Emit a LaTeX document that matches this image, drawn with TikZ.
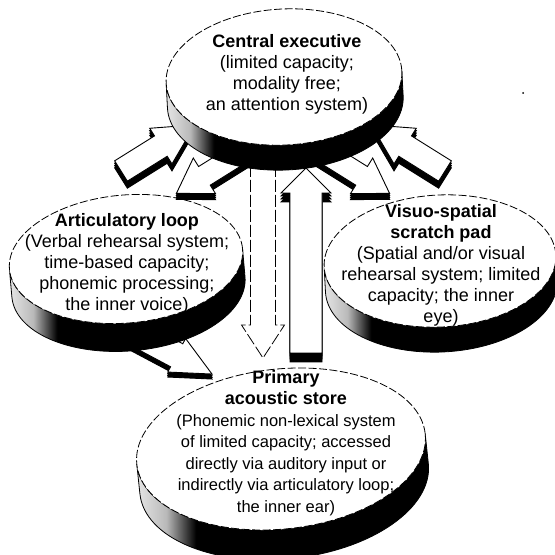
\documentclass[tikz,border=0pt]{standalone}
\usepackage{fontspec}
\setmainfont{Liberation Sans}
\pgfdeclarehorizontalshading{discsideshade}{100bp}{color(0bp)=(gray!20); color(25bp)=(gray!20); color(30bp)=(gray!55); color(35bp)=(black); color(100bp)=(black)}
\tikzset{
  face/.style={fill=white, draw=black, line width=0.8pt, dash pattern=on 8pt off 2.5pt},
  disclook/.style={shade, shading=discsideshade, draw=black, line width=0.8pt},
  arrowtop/.style={fill=white, draw=black, line width=0.9pt, line join=miter},
  arrowdash/.style={fill=white, draw=black, line width=0.8pt, dash pattern=on 12pt off 3pt},
  arrowshadow/.style={fill=black, draw=black, line width=0.9pt, line join=miter},
  bodytext/.style={align=center, inner sep=0pt, font=\fontsize{18}{21}\selectfont},
  smalltext/.style={align=center, inner sep=0pt, font=\fontsize{16.5}{21.5}\selectfont},
}
\newcommand\disctitle[1]{{\fontsize{18}{21}\selectfont\bfseries #1}}
% cx, cy, rx, ry, depth, rotation
\newcommand\drawdisc[6]{%
  \begin{scope}[shift={(#1pt,#2pt)}, rotate=#6]
    \path[disclook] (-#3pt,0pt) -- (-#3pt,-#5pt)
      arc[start angle=180, end angle=360, x radius=#3pt, y radius=#4pt]
      -- (#3pt,0pt)
      arc[start angle=0, end angle=-180, x radius=#3pt, y radius=#4pt] -- cycle;
    \path[face] (0pt,0pt) ellipse[x radius=#3pt, y radius=#4pt];
  \end{scope}}
% [style] x, y (tail centre), angle, length, shaft half width, head half width, head length, depth
\newcommand\blockarrow[9][arrowtop]{%
  \ifdim #9pt>0pt
    \foreach \off in {0.33,0.67,1}{
      \path[arrowshadow, shift={(#2pt,{#3pt-\off*#9pt})}, rotate=#4]
        (0pt,-#6pt) -- ({#5pt-#8pt},-#6pt) -- ({#5pt-#8pt},-#7pt) -- (#5pt,0pt)
        -- ({#5pt-#8pt},#7pt) -- ({#5pt-#8pt},#6pt) -- (0pt,#6pt) -- cycle;
    }
  \fi
  \path[#1, shift={(#2pt,#3pt)}, rotate=#4]
    (0pt,-#6pt) -- ({#5pt-#8pt},-#6pt) -- ({#5pt-#8pt},-#7pt) -- (#5pt,0pt)
    -- ({#5pt-#8pt},#7pt) -- ({#5pt-#8pt},#6pt) -- (0pt,#6pt) -- cycle;
}
\begin{document}
\begin{tikzpicture}[x=1pt,y=1pt]
\useasboundingbox (0,0) rectangle (555,555);
\fill[white] (0,0) rectangle (555,555);

% Primary acoustic store
\drawdisc{281}{106}{145}{80}{30}{6}
% arrow articulatory loop -> primary acoustic store
\blockarrow{123.7}{227.9}{-28}{100}{13}{19}{40}{5}
% articulatory loop and visuo-spatial scratch pad
\drawdisc{126}{296}{117}{64}{28}{5}
\drawdisc{440}{294}{116}{66}{25}{3}

% arrows to and from the central executive
\blockarrow{121}{384}{32}{87}{12}{21}{40}{7}
\blockarrow{257}{412}{212}{95}{11}{21}{33}{6}
\blockarrow{445}{384}{148}{87}{12}{21}{40}{7}
\blockarrow{309}{412}{328}{95}{11}{21}{33}{6}
\blockarrow[arrowdash]{263}{405}{270}{208}{12.5}{21.5}{33}{0}
\blockarrow{306}{202}{90}{185}{16}{25}{25}{9}

% central executive
\drawdisc{284}{478}{118}{68}{25}{3}

\node[bodytext] (ce) at (287,481) {\disctitle{Central executive}\\(limited capacity;\\modality free;\\an attention system)};
\node[bodytext] (al) at (127,291) {\disctitle{Articulatory loop}\\(Verbal rehearsal system;\\time-based capacity;\\phonemic processing;\\the inner voice)};
\node[bodytext] (vs) at (441,290) {\disctitle{Visuo-spatial}\\\disctitle{scratch pad}\\(Spatial and/or visual\\rehearsal system; limited\\capacity; the inner\\eye)};
\node[smalltext] (pa) at (286,112) {\disctitle{Primary}\\\disctitle{acoustic store}\\(Phonemic non-lexical system\\of limited capacity; accessed\\directly via auditory input or\\indirectly via articulatory loop;\\the inner ear)};

\fill (523,462) circle (1);
\end{tikzpicture}
\end{document}
